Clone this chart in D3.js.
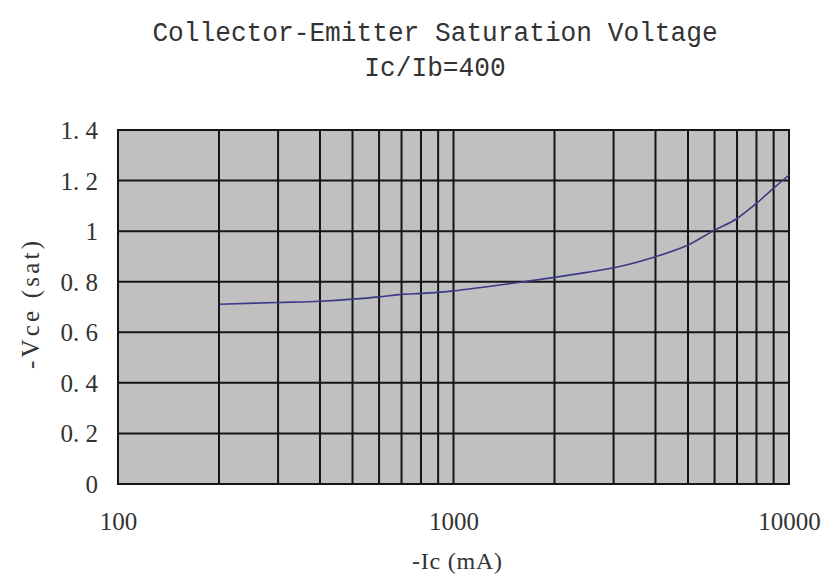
<!DOCTYPE html>
<html>
<head>
<meta charset="utf-8">
<script src="https://cdn.jsdelivr.net/npm/d3@7"></script>
<style>
  html, body { margin: 0; padding: 0; background: #fff; }
  svg { display: block; }
</style>
</head>
<body>
<svg id="chart" width="827" height="574"></svg>
<script>
// ---- data ----
const currentMA = [200, 300, 400, 500, 600, 700, 800, 900, 1000, 1500, 2000, 2500, 3000, 4000, 5000, 6000, 7000, 8000, 9000, 10000];
const vceSat    = [0.711, 0.718, 0.723, 0.731, 0.740, 0.750, 0.754, 0.758, 0.764, 0.794, 0.817, 0.837, 0.855, 0.899, 0.945, 1.004, 1.05, 1.11, 1.17, 1.222];
const xTickValues = [100, 1000, 10000];
const xTickLabels = ["100", "1000", "10000"];
const xGridValues = [200, 300, 400, 500, 600, 700, 800, 900, 1000, 2000, 3000, 4000, 5000, 6000, 7000, 8000, 9000, 10000];
const yTickValues = [0, 0.2, 0.4, 0.6, 0.8, 1, 1.2, 1.4];
const yTickLabels = ["0", "0. 2", "0. 4", "0. 6", "0. 8", "1", "1. 2", "1. 4"];
const titleLines = ["Collector-Emitter Saturation Voltage", "Ic/Ib=400"];
const xAxisTitle = "-Ic (mA)";
const yAxisTitle = "-Vce (sat)";

// ---- layout ----
const svg = d3.select("#chart");
const L = 118, R = 789, T = 130, B = 484;
const x = d3.scaleLog().domain([100, 10000]).range([L, R]);
const y = d3.scaleLinear().domain([0, 1.4]).range([B, T]);
const serif = "'Liberation Serif', 'DejaVu Serif', serif";
const mono = "'Liberation Mono', 'DejaVu Sans Mono', monospace";

// title
svg.append("g").selectAll("text").data(titleLines).join("text")
  .attr("x", 435).attr("y", (d, i) => 41 + i * 35)
  .attr("text-anchor", "middle")
  .attr("font-family", mono).attr("font-size", 27)
  .attr("textLength", d => d.length * 15.7).attr("lengthAdjust", "spacingAndGlyphs")
  .attr("fill", "#333")
  .text(d => d);

// plot background
svg.append("rect").attr("x", L).attr("y", T).attr("width", R - L).attr("height", B - T)
  .attr("fill", "#c0c0c0");

// grid
const grid = svg.append("g").attr("stroke", "#151515").attr("stroke-width", 2);
grid.selectAll("line.h").data(yTickValues).join("line").attr("class", "h")
  .attr("x1", L).attr("x2", R).attr("y1", d => y(d)).attr("y2", d => y(d));
grid.selectAll("line.v").data(xGridValues).join("line").attr("class", "v")
  .attr("x1", d => x(d)).attr("x2", d => x(d)).attr("y1", T).attr("y2", B);
svg.append("rect").attr("x", L).attr("y", T).attr("width", R - L).attr("height", B - T)
  .attr("fill", "none").attr("stroke", "#151515").attr("stroke-width", 2);

// curve
const line = d3.line().x((d, i) => x(currentMA[i])).y(d => y(d)).curve(d3.curveMonotoneX);
svg.append("path").datum(vceSat).attr("d", line)
  .attr("fill", "none").attr("stroke", "#3a3a86").attr("stroke-width", 1.6);

// axes (using d3 axes, styled)
const xAxis = d3.axisBottom(x).tickValues(xTickValues).tickFormat((d, i) => xTickLabels[i]).tickSize(0).tickPadding(0);
const gx = svg.append("g").attr("transform", `translate(0,${B})`).call(xAxis);
gx.select(".domain").remove();
gx.selectAll("text").attr("font-family", serif).attr("font-size", 25).attr("fill", "#333")
  .attr("dy", null).attr("y", 46);

const yAxis = d3.axisLeft(y).tickValues(yTickValues).tickFormat((d, i) => yTickLabels[i]).tickSize(0).tickPadding(20);
const gy = svg.append("g").attr("transform", `translate(${L},0)`).call(yAxis);
gy.select(".domain").remove();
gy.selectAll("text").attr("font-family", serif).attr("font-size", 25).attr("fill", "#333")
  .attr("dy", "0.34em");

// axis titles
svg.append("text").attr("x", 457).attr("y", 569).attr("text-anchor", "middle")
  .attr("font-family", serif).attr("font-size", 24).attr("fill", "#333")
  .attr("textLength", 90).attr("lengthAdjust", "spacing").text(xAxisTitle);
svg.append("text").attr("transform", "translate(39,305) rotate(-90)").attr("text-anchor", "middle")
  .attr("font-family", serif).attr("font-size", 25).attr("fill", "#333")
  .attr("textLength", 128).attr("lengthAdjust", "spacing").text(yAxisTitle);
</script>
</body>
</html>
